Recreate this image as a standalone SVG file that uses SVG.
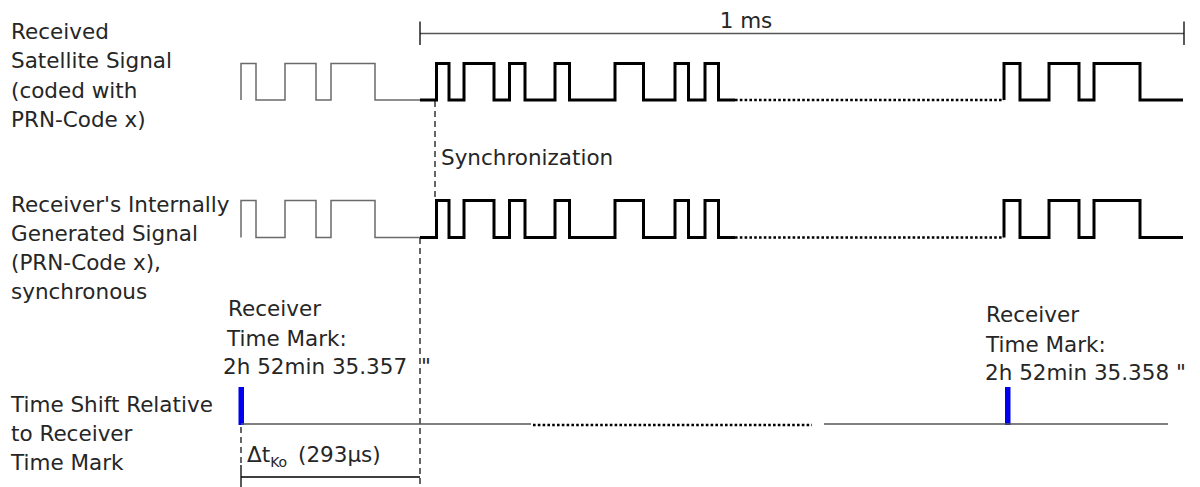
<svg xmlns="http://www.w3.org/2000/svg" width="1200" height="487" viewBox="0 0 1200 487">
<style>
text{font-family:"DejaVu Sans","Liberation Sans",sans-serif;font-size:21.5px;fill:#262626}
.thin{fill:none;stroke:#6a6a6a;stroke-width:1.5}
.thick{fill:none;stroke:#000;stroke-width:3;stroke-linejoin:miter}
.dots{fill:none;stroke:#000;stroke-width:2.6;stroke-dasharray:2.6 2.2}
.dash{fill:none;stroke:#000;stroke-width:1.2;stroke-dasharray:6 4}
.rule{fill:none;stroke:#555;stroke-width:1.5}
.tick{fill:none;stroke:#000;stroke-width:1.3}
.mark{fill:#0000ee}
</style>
<rect width="1200" height="487" fill="#fff"/>
<g id="labels">
<text x="11" y="38.5">Received</text>
<text x="11" y="68">Satellite Signal</text>
<text x="11" y="97.5">(coded with</text>
<text x="11" y="127">PRN-Code x)</text>
<text x="11" y="211.5">Receiver's Internally</text>
<text x="11" y="240.5">Generated Signal</text>
<text x="11" y="269.5">(PRN-Code x),</text>
<text x="11" y="298.5">synchronous</text>
<text x="11" y="411.5">Time Shift Relative</text>
<text x="11" y="440.5">to Receiver</text>
<text x="11" y="469.5">Time Mark</text>
</g>
<g id="duration">
<line class="rule" x1="420" y1="33.5" x2="1184" y2="33.5"/>
<line class="tick" x1="420" y1="21.5" x2="420" y2="45"/>
<line class="tick" x1="1184" y1="21.5" x2="1184" y2="45"/>
<text x="746" y="28" text-anchor="middle">1 ms</text>
</g>
<g id="satellite-signal">
<path class="thin" d="M241,100 V63.5 H256 V100 H285 V63.5 H316 V100 H331 V63.5 H375 V100 H420"/>
<path class="thick" d="M420,100 H436.5 V63.5 H449 V100 H464 V63.5 H494 V100 H509.5 V63.5 H525 V100 H555 V63.5 H569.5 V100 H615 V63.5 H643.5 V100 H675 V63.5 H688.5 V100 H705 V63.5 H718.5 V100 H735"/>
<line class="dots" x1="735" y1="100" x2="1004" y2="100"/>
<path class="thick" d="M1004,100 V63.5 H1020 V100 H1049 V63.5 H1079 V100 H1094 V63.5 H1140 V100 H1183"/>
</g>
<g id="generated-signal">
<path class="thin" d="M241,237.5 V200.5 H256 V237.5 H285 V200.5 H316 V237.5 H331 V200.5 H375 V237.5 H420"/>
<path class="thick" d="M420,237.5 H436.5 V200.5 H449 V237.5 H464 V200.5 H494 V237.5 H509.5 V200.5 H525 V237.5 H555 V200.5 H569.5 V237.5 H615 V200.5 H643.5 V237.5 H675 V200.5 H688.5 V237.5 H705 V200.5 H718.5 V237.5 H735"/>
<line class="dots" x1="735" y1="237.5" x2="1004" y2="237.5"/>
<path class="thick" d="M1004,237.5 V200.5 H1020 V237.5 H1049 V200.5 H1079 V237.5 H1094 V200.5 H1140 V237.5 H1183"/>
</g>
<g id="synchronization">
<line class="dash" x1="435" y1="101" x2="435" y2="199"/>
<line class="dash" x1="420" y1="238" x2="420" y2="487"/>
<text x="441" y="165">Synchronization</text>
</g>
<g id="time-mark-1">
<text x="228" y="316">Receiver</text>
<text x="227" y="346">Time Mark:</text>
<text x="223" y="374">2h 52min 35.357<tspan x="421">"</tspan></text>
<rect class="mark" x="238.5" y="387" width="5.5" height="38"/>
</g>
<g id="time-mark-2">
<text x="986" y="321.5">Receiver</text>
<text x="986" y="351.5">Time Mark:</text>
<text x="985" y="380">2h 52min 35.358 "</text>
<rect class="mark" x="1005" y="387" width="5.5" height="38"/>
</g>
<g id="time-axis">
<line class="rule" x1="241" y1="424" x2="531" y2="424"/>
<line class="dots" x1="533" y1="425" x2="812" y2="425"/>
<line class="rule" x1="824" y1="424" x2="1168" y2="424"/>
</g>
<g id="offset">
<line class="dash" x1="241" y1="427" x2="241" y2="465"/>
<line class="tick" x1="241" y1="465" x2="241" y2="487"/>
<line class="tick" x1="241" y1="477" x2="420" y2="477"/>
<text x="247" y="461.5">Δt<tspan font-size="14" dy="5">Ko</tspan><tspan x="298" dy="-5">(293µs)</tspan></text>
</g>
</svg>
